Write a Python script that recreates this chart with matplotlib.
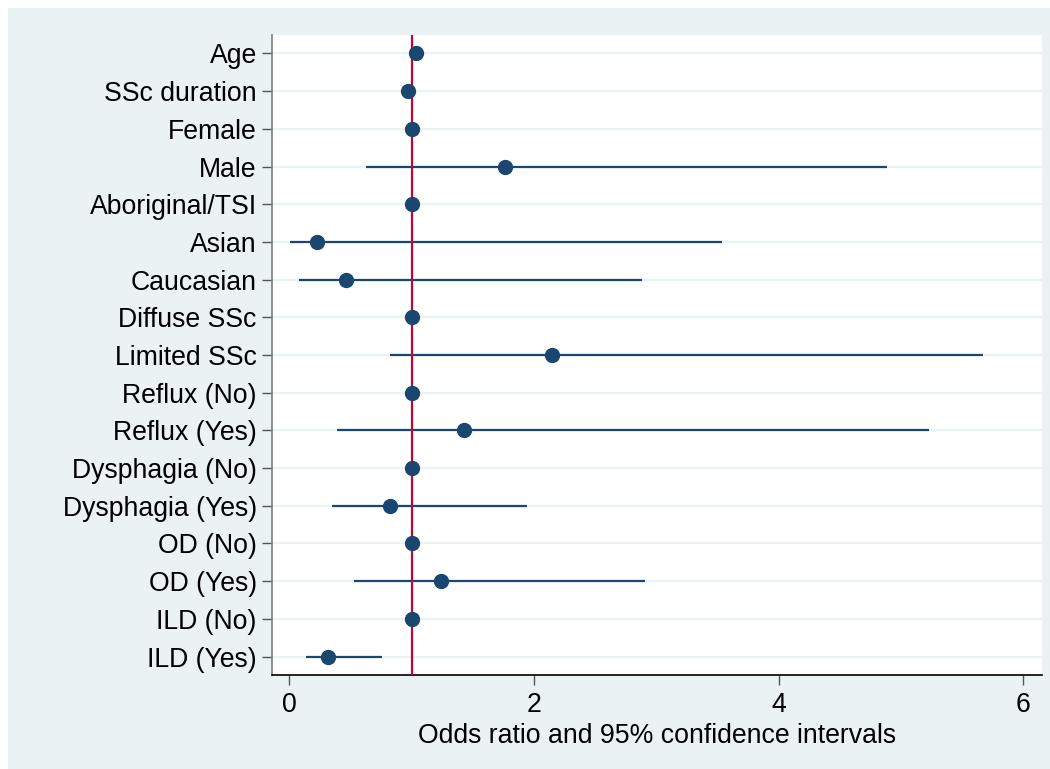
import matplotlib
matplotlib.use("Agg")
import matplotlib.pyplot as plt
from matplotlib.patches import Rectangle

categories = ["Age", "SSc duration", "Female", "Male", "Aboriginal/TSI", "Asian",
              "Caucasian", "Diffuse SSc", "Limited SSc", "Reflux (No)", "Reflux (Yes)",
              "Dysphagia (No)", "Dysphagia (Yes)", "OD (No)", "OD (Yes)", "ILD (No)", "ILD (Yes)"]
odds_ratio = [1.04, 0.97, 1.0, 1.76, 1.0, 0.23, 0.46, 1.0, 2.15, 1.0, 1.43, 1.0, 0.82, 1.0, 1.24, 1.0, 0.32]
ci_low = [None, None, None, 0.63, None, 0.01, 0.08, None, 0.82, None, 0.39, None, 0.35, None, 0.53, None, 0.14]
ci_high = [None, None, None, 4.89, None, 3.54, 2.88, None, 5.67, None, 5.23, None, 1.94, None, 2.91, None, 0.76]
xticks = [0, 2, 4, 6]
ref_line = 1.0

BG = "#EAF2F3"
NAVY = "#1A476F"
RED = "#C10534"

plt.rcParams['font.family'] = ['Liberation Sans', 'DejaVu Sans']

fig = plt.figure(figsize=(10.5, 7.69), dpi=100, facecolor="white")
fig.patches.append(Rectangle((8/1050, 0), 1 - 8/1050, 1 - 8/769, transform=fig.transFigure,
                             facecolor=BG, edgecolor="none", zorder=-10))
ax = fig.add_axes([272/1050, 1 - 675/769, (1042 - 272)/1050, (675 - 35)/769])
ax.set_facecolor("white")

n = len(categories)
ypos = list(range(n))

for y in ypos:
    ax.axhline(y, color=BG, lw=1.6, zorder=0)

for y, lo, hi in zip(ypos, ci_low, ci_high):
    if lo is not None:
        ax.plot([lo, hi], [y, y], color=NAVY, lw=1.6, zorder=2, solid_capstyle="butt")

ax.axvline(ref_line, color=RED, lw=1.6, zorder=3)
ax.plot(odds_ratio, ypos, "o", color=NAVY, markersize=10, zorder=4, linestyle="none")

ax.set_ylim(n - 1 + 0.49, -0.49)
ax.set_xlim(-0.141, 6.154)
ax.set_yticks(ypos)
ax.set_yticklabels(categories, fontsize=19.2)
ax.set_xticks(xticks)
ax.set_xticklabels([str(t) for t in xticks], fontsize=19.2)
ax.set_xlabel("Odds ratio and 95% confidence intervals", fontsize=19.2, labelpad=4)

for s in ["top", "right"]:
    ax.spines[s].set_visible(False)
ax.spines["left"].set_color("#7f7f7f")
ax.spines["left"].set_linewidth(1.2)
ax.spines["bottom"].set_color("black")
ax.spines["bottom"].set_linewidth(1.2)
ax.tick_params(axis="y", length=7, color="#555555", width=1, pad=4)
ax.tick_params(axis="x", length=7, color="#555555", width=1, pad=5)

fig.savefig("out.png", dpi=100, facecolor=fig.get_facecolor())
